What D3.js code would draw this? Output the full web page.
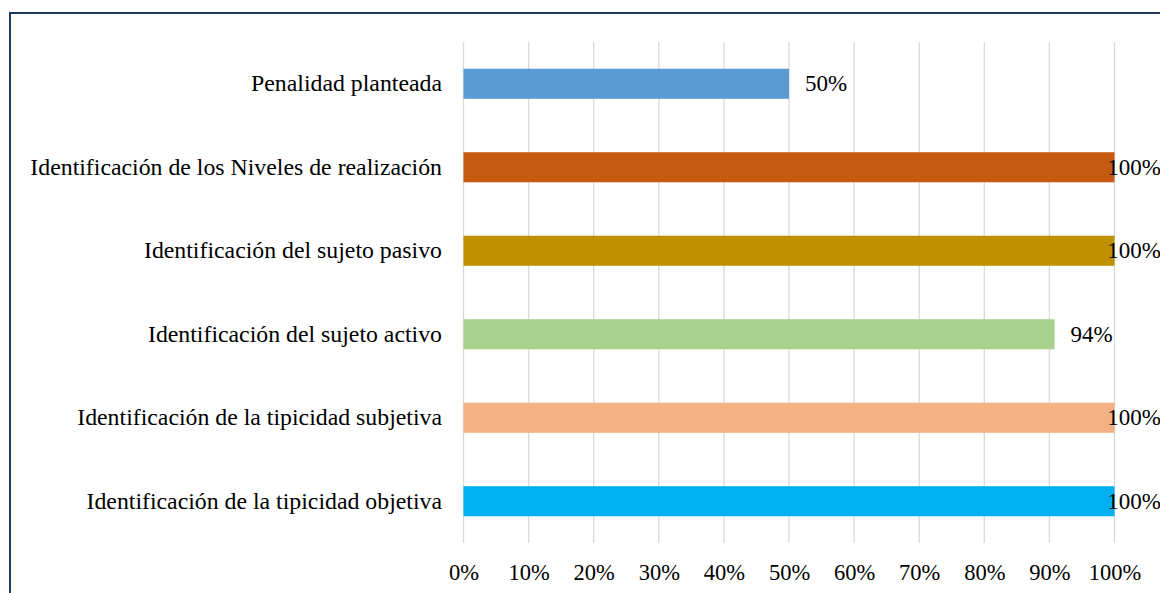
<!DOCTYPE html>
<html><head><meta charset="utf-8">
<script src="https://cdn.jsdelivr.net/npm/d3@7"></script>
<style>html,body{margin:0;padding:0;background:#fff;overflow:hidden}</style>
</head><body><svg id="c" width="1160" height="593"></svg>
<script>
const categories = ["Penalidad planteada","Identificación de los Niveles de realización","Identificación del sujeto pasivo","Identificación del sujeto activo","Identificación de la tipicidad subjetiva","Identificación de la tipicidad objetiva"];
const values = [0.50, 1.00, 1.00, 0.908, 1.00, 1.00];
const valueLabels = ["50%","100%","100%","94%","100%","100%"];
const colors = ["#5b9bd5","#c55a11","#bf9000","#a9d18e","#f4b183","#00b0f0"];
const tickValues = [0,0.1,0.2,0.3,0.4,0.5,0.6,0.7,0.8,0.9,1.0];

const W = 1160, H = 593;
const svg = d3.select("#c");
const font = "'Liberation Serif','Times New Roman',serif";
svg.append("rect").attr("x",10).attr("y",13).attr("width",W+20).attr("height",H+20)
  .attr("fill","#fff").attr("stroke","#203864").attr("stroke-width",2);

const x = d3.scaleLinear().domain([0,1]).range([463.5,1114.5]);
const y = d3.scaleBand().domain(categories).range([42,543]).paddingInner(0.64).paddingOuter(0.32);

const g = svg.append("g");
g.selectAll("line.grid").data(tickValues).join("line").attr("class","grid")
  .attr("x1",d=>x(d)).attr("x2",d=>x(d)).attr("y1",42).attr("y2",543)
  .attr("stroke","#d9d9d9").attr("stroke-width",1.3);

g.selectAll("rect.bar").data(categories).join("rect").attr("class","bar")
  .attr("x",x(0)).attr("y",d=>y(d)).attr("height",y.bandwidth())
  .attr("width",(d,i)=>x(values[i])-x(0)).attr("fill",(d,i)=>colors[i]);

const xa = g.append("g").attr("transform","translate(0,580)")
  .call(d3.axisBottom(x).tickValues(tickValues).tickFormat(d3.format(".0%")).tickSize(0).tickPadding(0));
xa.select(".domain").remove();
xa.selectAll("text").attr("font-family",font).attr("font-size",22.5).attr("fill","#000").attr("dy",0);

const ya = g.append("g").attr("transform","translate(442,0)")
  .call(d3.axisLeft(y).tickSize(0).tickPadding(0));
ya.select(".domain").remove();
ya.selectAll("text").attr("font-family",font).attr("font-size",23.8).attr("fill","#000").attr("dy","0.32em");

g.selectAll("text.val").data(categories).join("text").attr("class","val")
  .attr("font-family",font).attr("font-size",23).attr("fill","#000")
  .attr("y",d=>y(d)+y.bandwidth()/2).attr("dy","0.32em")
  .text((d,i)=>valueLabels[i])
  .each(function(d,i){
    const w = this.getComputedTextLength();
    const xs = Math.min(x(values[i])+16, W - w + 1);
    d3.select(this).attr("x",xs);
  });
</script></body></html>
